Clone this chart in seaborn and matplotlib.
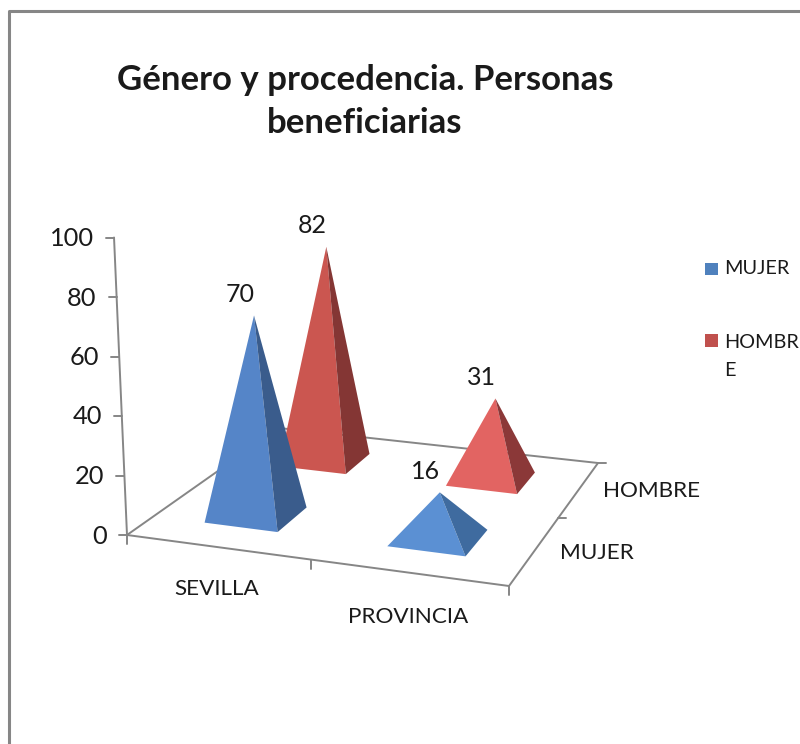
import numpy as np
import seaborn as sns
import matplotlib.pyplot as plt

# data
categories = ["SEVILLA", "PROVINCIA"]
series = ["MUJER", "HOMBRE"]
mujer = [70, 16]
hombre = [82, 31]
y_ticks = [0, 20, 40, 60, 80, 100]

sns.set_theme(style="white")
plt.rcParams["font.family"] = ["Lato", "DejaVu Sans"]
text_col = "#1a1a1a"
line_col = "#868686"

# floor of the 3d box in picture pixels: front-left, front-right, back-right, back-left
floor = np.array([[127, 535], [509, 586], [598, 463], [279, 428]], dtype=float)
square = np.array([[0, 0], [1, 0], [1, 1], [0, 1]], dtype=float)

rows, rhs = [], []
for (u, v), (px, py) in zip(square, floor):
    rows.append([u, v, 1, 0, 0, 0, -u * px, -v * px])
    rows.append([0, 0, 0, u, v, 1, -u * py, -v * py])
    rhs += [px, py]
H = np.append(np.linalg.solve(np.array(rows), np.array(rhs)), 1).reshape(3, 3)


def project(u, v, z=0):
    p = H @ np.array([u, v, 1])
    x, y = p[0] / p[2], p[1] / p[2]
    # height shrinks towards the back, verticals lean away from x=300
    k = 2.975 - 0.5 * v
    lean = (x - 300) * 0.00075
    return x + z * lean, y - z * k


fig = plt.figure(figsize=(8, 7.44), dpi=100)
ax = fig.add_axes([0, 0, 1, 1])
ax.set_xlim(0, 800)
ax.set_ylim(744, 0)
ax.axis("off")

# chart frame
ax.plot([9, 9, 810], [760, 11, 11], color=line_col, lw=2.2)

# floor outline and ticks
for a, b in [((0, 0), (1, 0)), ((1, 0), (1, 1)), ((1, 1), (0, 1)), ((0, 1), (0, 0))]:
    p, q = project(*a), project(*b)
    ax.plot([p[0], q[0]], [p[1], q[1]], color=line_col, lw=1.4, zorder=1)
for u in [0, 0.5, 1]:
    x, y = project(u, 0)
    ax.plot([x, x], [y, y + 9], color=line_col, lw=1.4, zorder=1)
for v in [0.5, 1]:
    x, y = project(1, v)
    ax.plot([x, x + 8], [y, y], color=line_col, lw=1.4, zorder=1)

# value axis
p, q = project(0, 0), project(0, 0, y_ticks[-1])
ax.plot([p[0], q[0]], [p[1], q[1]], color=line_col, lw=1.4, zorder=1)
for t in y_ticks:
    x, y = project(0, 0, t)
    ax.plot([x - 8, x], [y, y], color=line_col, lw=1.4, zorder=1)
    ax.text(x - 20, y + 1, str(t), ha="right", va="center", fontsize=18.3, color=text_col)

# pyramids, back row first
colors = {
    ("HOMBRE", 0): ("#cb5650", "#843634"),
    ("HOMBRE", 1): ("#e26462", "#8b3838"),
    ("MUJER", 0): ("#5585c8", "#3a5c8c"),
    ("MUJER", 1): ("#5b90d3", "#3f6b9f"),
}
du, dv = 0.102, 0.10
for name, vals, v in [("HOMBRE", hombre, 0.75), ("MUJER", mujer, 0.25)]:
    for i, val in enumerate(vals):
        u = 0.247 + 0.5 * i
        apex = project(u, v, val)
        left = project(u - du, v - dv)
        front = project(u + du, v - dv)
        right = project(u + du, v + dv)
        c1, c2 = colors[(name, i)]
        ax.fill([left[0], front[0], apex[0]], [left[1], front[1], apex[1]], color=c1, lw=0, zorder=3)
        ax.fill([front[0], right[0], apex[0]], [front[1], right[1], apex[1]], color=c2, lw=0, zorder=3)
        ax.text(apex[0] - 14, apex[1] - 21, str(val), ha="center", va="center",
                fontsize=18, color=text_col, zorder=4)

# axis labels
ax.text(217, 589, categories[0], ha="center", va="center", fontsize=16.2, color=text_col)
ax.text(408, 617, categories[1], ha="center", va="center", fontsize=16.2, color=text_col)
ax.text(597, 553, series[0], ha="center", va="center", fontsize=16.2, color=text_col)
ax.text(652, 491, series[1], ha="center", va="center", fontsize=16.2, color=text_col)

# title
ax.text(365, 80, "Género y procedencia. Personas", ha="center", va="center",
        fontsize=25, fontweight="bold", color=text_col)
ax.text(365, 123, "beneficiarias", ha="center", va="center",
        fontsize=25, fontweight="bold", color=text_col)

# legend
ax.fill([705, 718, 718, 705], [263, 263, 275, 275], color="#4f81bd", lw=0)
ax.fill([705, 718, 718, 705], [334, 334, 347, 347], color="#c0504d", lw=0)
ax.text(724, 269, "MUJER", ha="left", va="center", fontsize=14.3, color=text_col)
ax.text(724, 342, "HOMBR", ha="left", va="center", fontsize=14.3, color=text_col)
ax.text(724, 370, "E", ha="left", va="center", fontsize=14.3, color=text_col)

plt.savefig("out.png", dpi=100)
plt.close()
